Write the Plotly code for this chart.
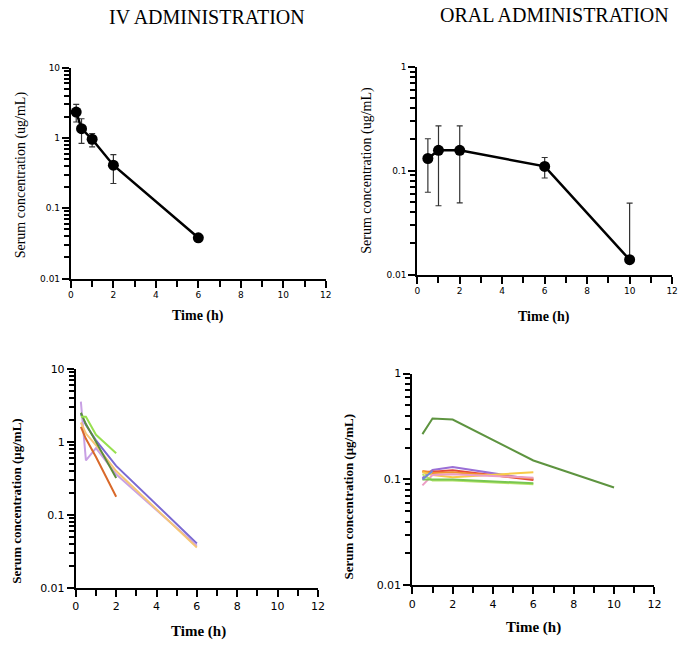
import plotly.graph_objects as go

W, H = 685, 658

# ---------------- data ----------------
# Top-left: IV mean +/- error
iv_time = [0.25, 0.5, 1, 2, 6]
iv_mean = [2.34, 1.36, 0.96, 0.41, 0.038]
iv_upper = [3.02, 1.88, 1.16, 0.58, 0.038]
iv_lower = [1.69, 0.84, 0.75, 0.225, 0.038]

# Top-right: oral mean +/- error
oral_time = [0.5, 1, 2, 6, 10]
oral_mean = [0.131, 0.157, 0.157, 0.110, 0.0139]
oral_upper = [0.203, 0.27, 0.27, 0.134, 0.0488]
oral_lower = [0.062, 0.046, 0.049, 0.085, 0.0139]

# Bottom-left: individual IV profiles
iv_ind_names = ["S1", "S2", "S3", "S4", "S5", "S6"]
iv_ind_time = [
    [0.25, 0.5, 1, 2, 6],
    [0.25, 0.5, 1, 2, 6],
    [0.25, 0.5, 1, 2, 6],
    [0.25, 0.5, 1, 2],
    [0.25, 0.5, 1, 2],
    [0.25, 0.5, 1, 2],
]
iv_ind_conc = [
    [2.4, 1.7, 1.05, 0.47, 0.041],
    [3.55, 0.56, 0.82, 0.36, 0.038],
    [1.84, 1.3, 0.9, 0.4, 0.036],
    [1.6, 1.1, 0.62, 0.178],
    [2.5, 1.75, 1.0, 0.32],
    [2.2, 2.2, 1.25, 0.70],
]
iv_ind_colors = ["#7B6AD2", "#C8A0E4", "#F6C676", "#D9692A", "#5B8C3E", "#98E050"]

# Bottom-right: individual oral profiles
oral_ind_names = ["P1", "P2", "P3", "P4", "P5", "P6", "P7", "P8", "P9"]
oral_ind_time = [
    [0.5, 1, 2, 6, 10],
    [0.5, 1, 2, 6],
    [0.5, 1, 2, 6],
    [0.5, 1, 2, 6],
    [0.5, 1, 2, 6],
    [0.5, 1, 2, 6],
    [0.5, 1, 2, 6],
    [0.5, 1, 2, 6],
    [0.5, 1],
]
oral_ind_conc = [
    [0.268, 0.376, 0.368, 0.151, 0.084],
    [0.103, 0.123, 0.131, 0.100],
    [0.118, 0.118, 0.122, 0.099],
    [0.120, 0.115, 0.117, 0.102],
    [0.117, 0.110, 0.105, 0.117],
    [0.088, 0.110, 0.112, 0.104],
    [0.112, 0.098, 0.098, 0.090],
    [0.100, 0.100, 0.100, 0.092],
    [0.100, 0.120],
]
oral_ind_colors = ["#5E9440", "#9A6FD6", "#E4473E", "#F2902C", "#F7CB48",
                   "#EC9DC4", "#B5E46A", "#78C650", "#6E86D6"]

x_ticks = [0, 2, 4, 6, 8, 10, 12]

# ---------------- helpers ----------------
def px(x):
    return x / W

def py(y):
    return 1 - y / H

fig = go.Figure()

SERIF = "Liberation Serif"
SANS = "DejaVu Sans"

# Top-left
fig.add_trace(go.Scatter(
    x=iv_time, y=iv_mean, mode="lines+markers",
    line=dict(color="black", width=2.5),
    marker=dict(color="black", size=11),
    error_y=dict(type="data", symmetric=False,
                 array=[u - m for u, m in zip(iv_upper, iv_mean)],
                 arrayminus=[m - l for m, l in zip(iv_mean, iv_lower)],
                 color="#333333", thickness=1.2, width=3),
    xaxis="x", yaxis="y", showlegend=False))

# Top-right
fig.add_trace(go.Scatter(
    x=oral_time, y=oral_mean, mode="lines+markers",
    line=dict(color="black", width=2.5),
    marker=dict(color="black", size=11),
    error_y=dict(type="data", symmetric=False,
                 array=[u - m for u, m in zip(oral_upper, oral_mean)],
                 arrayminus=[m - l for m, l in zip(oral_mean, oral_lower)],
                 color="#333333", thickness=1.2, width=3),
    xaxis="x2", yaxis="y2", showlegend=False))

# Bottom-left
for n, t, c, col in zip(iv_ind_names, iv_ind_time, iv_ind_conc, iv_ind_colors):
    fig.add_trace(go.Scatter(x=t, y=c, mode="lines", name=n,
                             line=dict(color=col, width=2),
                             xaxis="x3", yaxis="y3", showlegend=False))

# Bottom-right
for n, t, c, col in zip(oral_ind_names, oral_ind_time, oral_ind_conc, oral_ind_colors):
    fig.add_trace(go.Scatter(x=t, y=c, mode="lines", name=n,
                             line=dict(color=col, width=2),
                             xaxis="x4", yaxis="y4", showlegend=False))


def xaxis(dom, anchor, fsize, font):
    return dict(domain=dom, anchor=anchor, range=[0, 12],
                tickmode="array", tickvals=x_ticks,
                ticks="outside", ticklen=7, tickwidth=2, tickcolor="black",
                showline=True, linecolor="black", linewidth=2, showgrid=False,
                zeroline=False, tickfont=dict(family=font, size=fsize, color="black"),
                minor=dict(tickmode="linear", tick0=0, dtick=1, ticks="outside",
                           ticklen=6, tickwidth=2, tickcolor="black", showgrid=False),
                fixedrange=True)


def yaxis(dom, anchor, rng, fsize, font):
    return dict(domain=dom, anchor=anchor, type="log", range=rng,
                tickmode="linear", tick0=0, dtick=1,
                ticks="outside", ticklen=7, tickwidth=2, tickcolor="black",
                showline=True, linecolor="black", linewidth=2, showgrid=False,
                zeroline=False, tickfont=dict(family=font, size=fsize, color="black"),
                minor=dict(dtick="D1", ticks="outside", ticklen=5, tickwidth=1.5,
                           tickcolor="black", showgrid=False),
                fixedrange=True)


fig.update_layout(
    width=W, height=H,
    margin=dict(l=0, r=0, t=0, b=0),
    paper_bgcolor="white", plot_bgcolor="white",
    xaxis=xaxis([px(68), px(327)], "y", 9, SANS),
    yaxis=yaxis([py(278), py(63)], "x", [-2, 1], 9, SANS),
    xaxis2=xaxis([px(420), px(679)], "y2", 9, SANS),
    yaxis2=yaxis([py(274), py(62)], "x2", [-2, 0], 9, SANS),
    xaxis3=xaxis([px(73), px(319)], "y3", 11, SANS),
    yaxis3=yaxis([py(594), py(370)], "x3", [-2, 1], 11, SANS),
    xaxis4=xaxis([px(415), px(661)], "y4", 11, SANS),
    yaxis4=yaxis([py(591), py(375)], "x4", [-2, 0], 11, SANS),
)

ann = []
def add_text(text, x, y, size, bold=False, angle=0, family=SERIF):
    if bold:
        text = "<b>" + text + "</b>"
    ann.append(dict(text=text, x=px(x), y=py(y), xref="paper", yref="paper",
                    showarrow=False, textangle=angle, xanchor="center", yanchor="middle",
                    font=dict(family=family, size=size, color="black")))

add_text("IV ADMINISTRATION", 206, 11, 20)
add_text("ORAL ADMINISTRATION", 559, 9, 20)

add_text("Serum concentration (ug/mL)", 17, 172, 14, angle=-90)
add_text("Time (h)", 197, 316, 14, bold=True)
add_text("Serum concentration (ug/mL)", 369, 168, 14, angle=-90)
add_text("Time (h)", 549, 317, 14, bold=True)

add_text("Serum concentration (μg/mL)", 12, 505, 13, bold=True, angle=-90)
add_text("Time (h)", 198, 638, 15, bold=True)
add_text("Serum concentration (μg/mL)", 350, 500, 13, bold=True, angle=-90)
add_text("Time (h)", 538, 634, 15, bold=True)

fig.update_layout(annotations=ann)

fig.write_html("out.html", config={"displayModeBar": False},
               post_script="document.body.style.margin='0px';")
